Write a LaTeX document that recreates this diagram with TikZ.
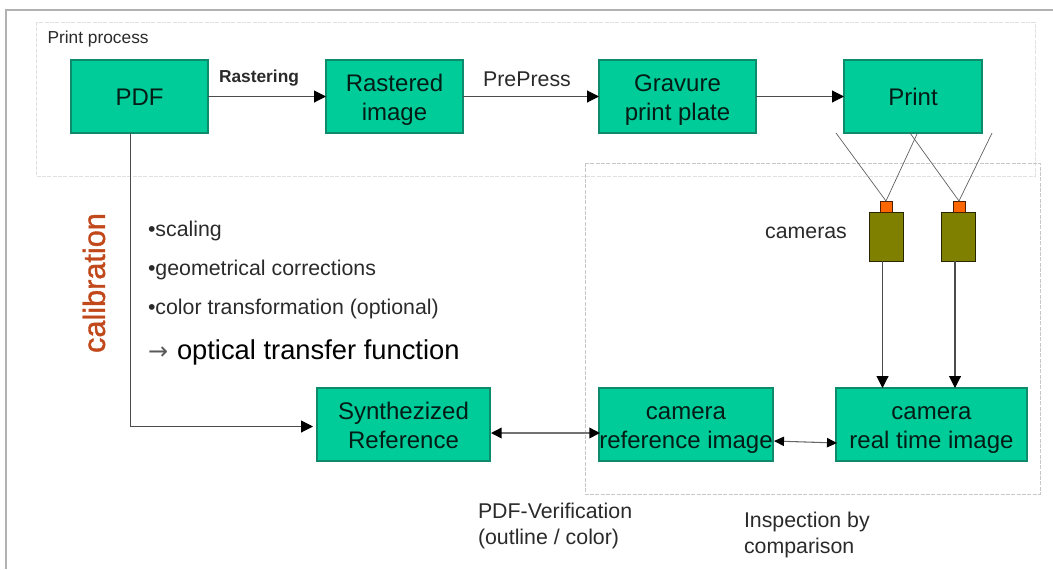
\documentclass[tikz,border=0pt]{standalone}
\usepackage{fontspec}
\setmainfont{Liberation Sans}
\newfontfamily\symfont{DejaVu Sans}
\newfontfamily\semibold[FakeBold=1.2]{Liberation Sans}
\usetikzlibrary{arrows.meta}
\definecolor{boxgreen}{HTML}{00CC99}
\definecolor{boxedge}{HTML}{0E8A6C}
\definecolor{camolive}{HTML}{808000}
\definecolor{lensorange}{HTML}{FF6600}
\definecolor{ink}{HTML}{2A2A2A}
\definecolor{calib}{HTML}{C0481A}
\tikzset{
  x=0.75pt,y=-0.75pt,
  every node/.style={text=ink,inner sep=0pt,outer sep=0pt},
  stepbox/.style={draw=boxedge,fill=boxgreen,line width=0.8pt,align=center,font=\fontsize{18}{22}\selectfont,text=black!80!boxedge},
  cambody/.style={draw=black!70!camolive,fill=camolive,line width=0.6pt},
  camlens/.style={draw=black!70!lensorange,fill=lensorange,line width=0.6pt},
  flow/.style={draw=black!70,line width=0.8pt,-{Triangle[length=9pt,width=9pt,color=black]}},
  twoway/.style={draw=black!55,line width=1.1pt,{Triangle[length=8pt,width=8pt,color=black]}-{Triangle[length=8pt,width=8pt,color=black]}},
  twowaysmall/.style={draw=black!60,line width=0.8pt,{Triangle[length=7.5pt,width=7pt,color=black]}-{Triangle[length=7.5pt,width=7pt,color=black]}},
  ray/.style={draw=black!65,line width=0.5pt},
  plain/.style={font=\fontsize{16}{19.2}\selectfont,align=left},
  small/.style={font=\fontsize{13}{16}\selectfont},
  zone/.style={draw=black!22,line width=0.5pt,dash pattern=on 3pt off 1pt},
}
\newcommand{\boxat}[6]{\node[stepbox,minimum width=#4*0.75pt-#2*0.75pt,minimum height=#5*0.75pt-#3*0.75pt,anchor=north west] (#1) at (#2,#3) {\raisebox{-2.5pt}[\height][\depth]{\begin{tabular}{@{}c@{}}#6\end{tabular}}};}
\begin{document}
\begin{tikzpicture}
\useasboundingbox (0,0) rectangle (1053,569);
% frame
\coordinate (fa) at (6,569); \coordinate (fb) at (6,10); \coordinate (fc) at (1053,10);
\draw[draw=black!30,line width=1pt] (fa) -- (fb) -- (fc);
% zones
\draw[draw=black!12,line width=0.5pt,dash pattern=on 3pt off 1pt] (36,22) rectangle (1035,176);
\draw[zone] (585,163) rectangle (1040,494);
% boxes
\boxat{pdf}{71}{60}{208}{133}{PDF}
\boxat{rast}{326}{60}{463}{133}{Rastered\\image}
\boxat{grav}{599}{60}{756}{133}{Gravure\\print plate}
\boxat{print}{844}{60}{982}{133}{Print}
\boxat{synth}{317}{388}{490}{461}{Synthezized\\Reference}
\boxat{cref}{599}{388}{773}{461}{camera\\reference image}
\boxat{creal}{836}{388}{1027}{461}{camera\\real time image}
% cameras
\node[cambody,draw,minimum width=25.5pt,minimum height=36.75pt,anchor=north west] (cam1) at (869,212) {};
\node[cambody,draw,minimum width=25.5pt,minimum height=36.75pt,anchor=north west] (cam2) at (941,212) {};
\node[camlens,draw,minimum width=9pt,minimum height=8.25pt,anchor=north west] (lens1) at (880,201) {};
\node[camlens,draw,minimum width=9pt,minimum height=8.25pt,anchor=north west] (lens2) at (953,201) {};
% rays
\coordinate (r1a) at (836,133); \coordinate (r1b) at (917,134);
\coordinate (r2a) at (910,133); \coordinate (r2b) at (992,133);
\draw[ray] (r1a) -- (lens1.north) -- (r1b);
\draw[ray] (r2a) -- (lens2.north) -- (r2b);
% connectors
\draw[flow] (pdf.east) -- (rast.west);
\draw[flow] (rast.east) -- (grav.west);
\draw[flow] (grav.east) -- (print.west);
\coordinate (pa) at (130.5,133); \coordinate (pb) at (130.5,426.5); \coordinate (pc) at (313,426.5);
\draw[flow] (pa) -- (pb) -- (pc);
\coordinate (c1a) at (882.5,261); \coordinate (c1b) at (882.5,388);
\coordinate (c2a) at (955,261); \coordinate (c2b) at (955,388);
\draw[flow] (c1a) -- (c1b);
\draw[flow] (c2a) -- (c2b);
\coordinate (t1a) at (491,433); \coordinate (t1b) at (600,433);
\draw[twoway] (t1a) -- (t1b);
\coordinate (t2a) at (774,441); \coordinate (t2b) at (837,443);
\draw[twowaysmall] (t2a) -- (t2b);
% labels
\node[small,anchor=west] (lprint) at (47.5,39) {Print process};
\node[anchor=center,font=\fontsize{13}{16}\selectfont\bfseries] (lrast) at (259,78) {Rastering};
\node[plain,anchor=center] (lpre) at (527,79) {PrePress};
\node[plain,anchor=center] (lcam) at (806,233) {cameras};
\node[plain,anchor=west] (b1) at (148,231) {•scaling};
\node[plain,anchor=west] (b2) at (148,270) {•geometrical corrections};
\node[plain,anchor=west] (b3) at (148,309) {•color transformation (optional)};
\node[anchor=west,text=black,font=\fontsize{20.5}{24}\selectfont] (b4) at (148,352) {\makebox[21.75pt][l]{\symfont\fontsize{18}{20}\selectfont\color{black!65}→}optical transfer function};
\node[anchor=center,rotate=90,text=calib,font=\semibold\fontsize{23}{26}\selectfont] (lcal) at (94,283) {calibration};
\node[plain,anchor=north west] (lver) at (478,503) {PDF-Verification\\(outline / color)};
\node[plain,anchor=north west] (lins) at (744,512) {Inspection by\\comparison};
\end{tikzpicture}
\end{document}
